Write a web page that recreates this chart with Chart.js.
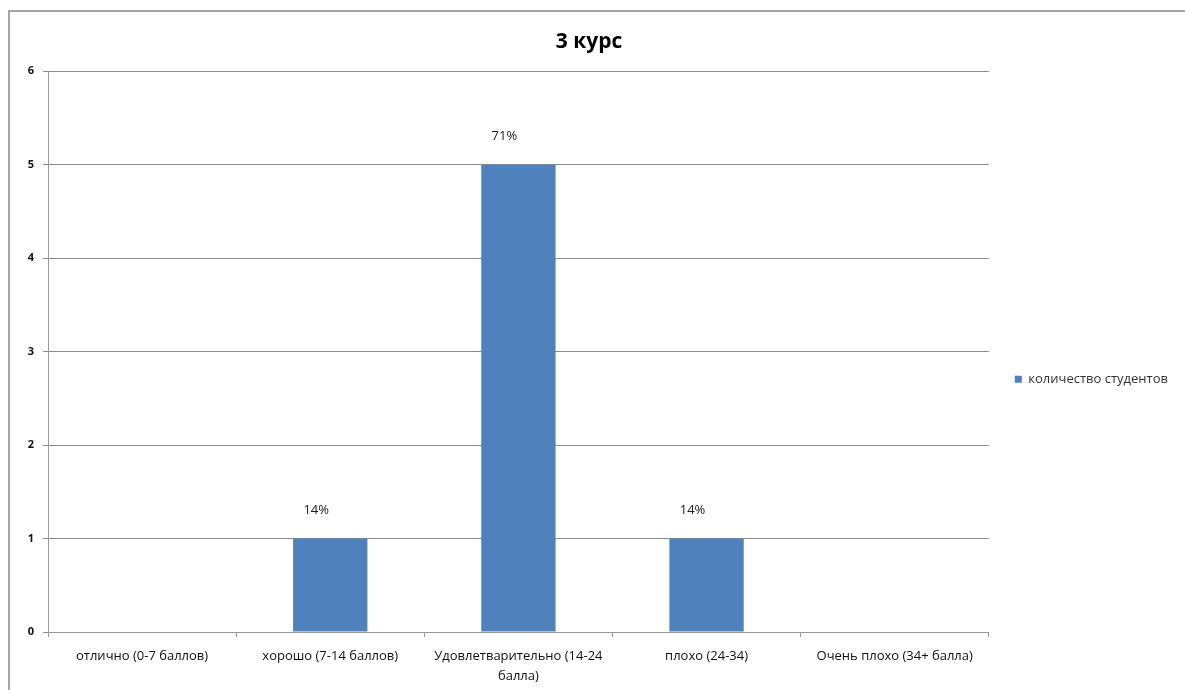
<!DOCTYPE html>
<html>
<head>
<meta charset="utf-8">
<script src="https://cdn.jsdelivr.net/npm/chart.js@4"></script>
<style>
  html, body { margin: 0; padding: 0; background: #fff; }
  #frame { position: absolute; left: 8px; top: 10px; width: 1200px; height: 700px;
           border-left: 2px solid #a6a6a6; border-top: 2px solid #a6a6a6; }
  #wrap { position: absolute; left: 0; top: 0; width: 1185px; height: 690px; }
</style>
</head>
<body>
<div id="frame"></div>
<div id="wrap"><canvas id="myChart"></canvas></div>
<script>
var categories = [
    'отлично (0-7 баллов)',
    'хорошо (7-14 баллов)',
    ['Удовлетварительно (14-24', 'балла)'],
    'плохо (24-34)',
    'Очень плохо (34+ балла)'
];
var students = [0, 1, 5, 1, 0];
var yTicks = [0, 1, 2, 3, 4, 5, 6];

var total = students.reduce(function(a, b) { return a + b; }, 0);

// percent labels over the bars
var percentLabels = {
    id: 'percentLabels',
    afterDatasetsDraw: function(chart) {
        var ctx = chart.ctx;
        var meta = chart.getDatasetMeta(0);
        ctx.save();
        ctx.font = '13px "Open Sans"';
        ctx.fillStyle = '#222';
        ctx.textAlign = 'center';
        ctx.textBaseline = 'middle';
        meta.data.forEach(function(bar, i) {
            var v = students[i];
            if (!v) return;
            ctx.fillText(Math.round(v / total * 100) + '%', bar.x - 14, bar.y - 28);
        });
        ctx.restore();
    }
};

var ctx = document.getElementById('myChart').getContext('2d');
var chart = new Chart(ctx, {
    type: 'bar',
    data: {
        labels: categories,
        datasets: [{
            label: 'количество студентов',
            backgroundColor: '#4F81BD',
            data: students,
            categoryPercentage: 1,
            barPercentage: 0.395
        }]
    },
    options: {
        responsive: true,
        maintainAspectRatio: false,
        animation: false,
        layout: { padding: { left: 0, right: 7, top: 0, bottom: 0 } },
        plugins: {
            title: {
                display: true,
                text: '3 курс',
                color: '#000',
                font: { family: 'Open Sans', size: 21, weight: 'bold' },
                padding: { top: 29, bottom: 17 }
            },
            legend: {
                position: 'right',
                title: {
                    display: true,
                    text: ' ',
                    font: { size: 12 },
                    padding: { top: 27, bottom: 27 }
                },
                labels: {
                    boxWidth: 7,
                    boxHeight: 7,
                    padding: 26,
                    color: '#333',
                    font: { family: 'Open Sans', size: 13 }
                }
            },
            tooltip: { enabled: false }
        },
        scales: {
            x: {
                grid: {
                    display: true,
                    drawOnChartArea: false,
                    drawTicks: true,
                    tickLength: 5,
                    color: '#999',
                    offset: true
                },
                border: { color: '#999' },
                ticks: {
                    color: '#111',
                    maxRotation: 0,
                    padding: 9,
                    font: { family: 'Open Sans', size: 13, lineHeight: 1.55 }
                },
                afterFit: function(scale) { scale.height = 58; }
            },
            y: {
                min: 0,
                max: 6,
                afterBuildTicks: function(scale) {
                    scale.ticks = yTicks.map(function(v) { return { value: v }; });
                },
                grid: { color: '#8c8c8c', tickLength: 5 },
                border: { color: '#999' },
                ticks: {
                    color: '#111',
                    padding: 9,
                    font: { family: 'Open Sans', size: 11, weight: 'bold' }
                },
                afterFit: function(scale) { scale.width = 48; }
            }
        }
    },
    plugins: [percentLabels]
});
</script>
</body>
</html>
